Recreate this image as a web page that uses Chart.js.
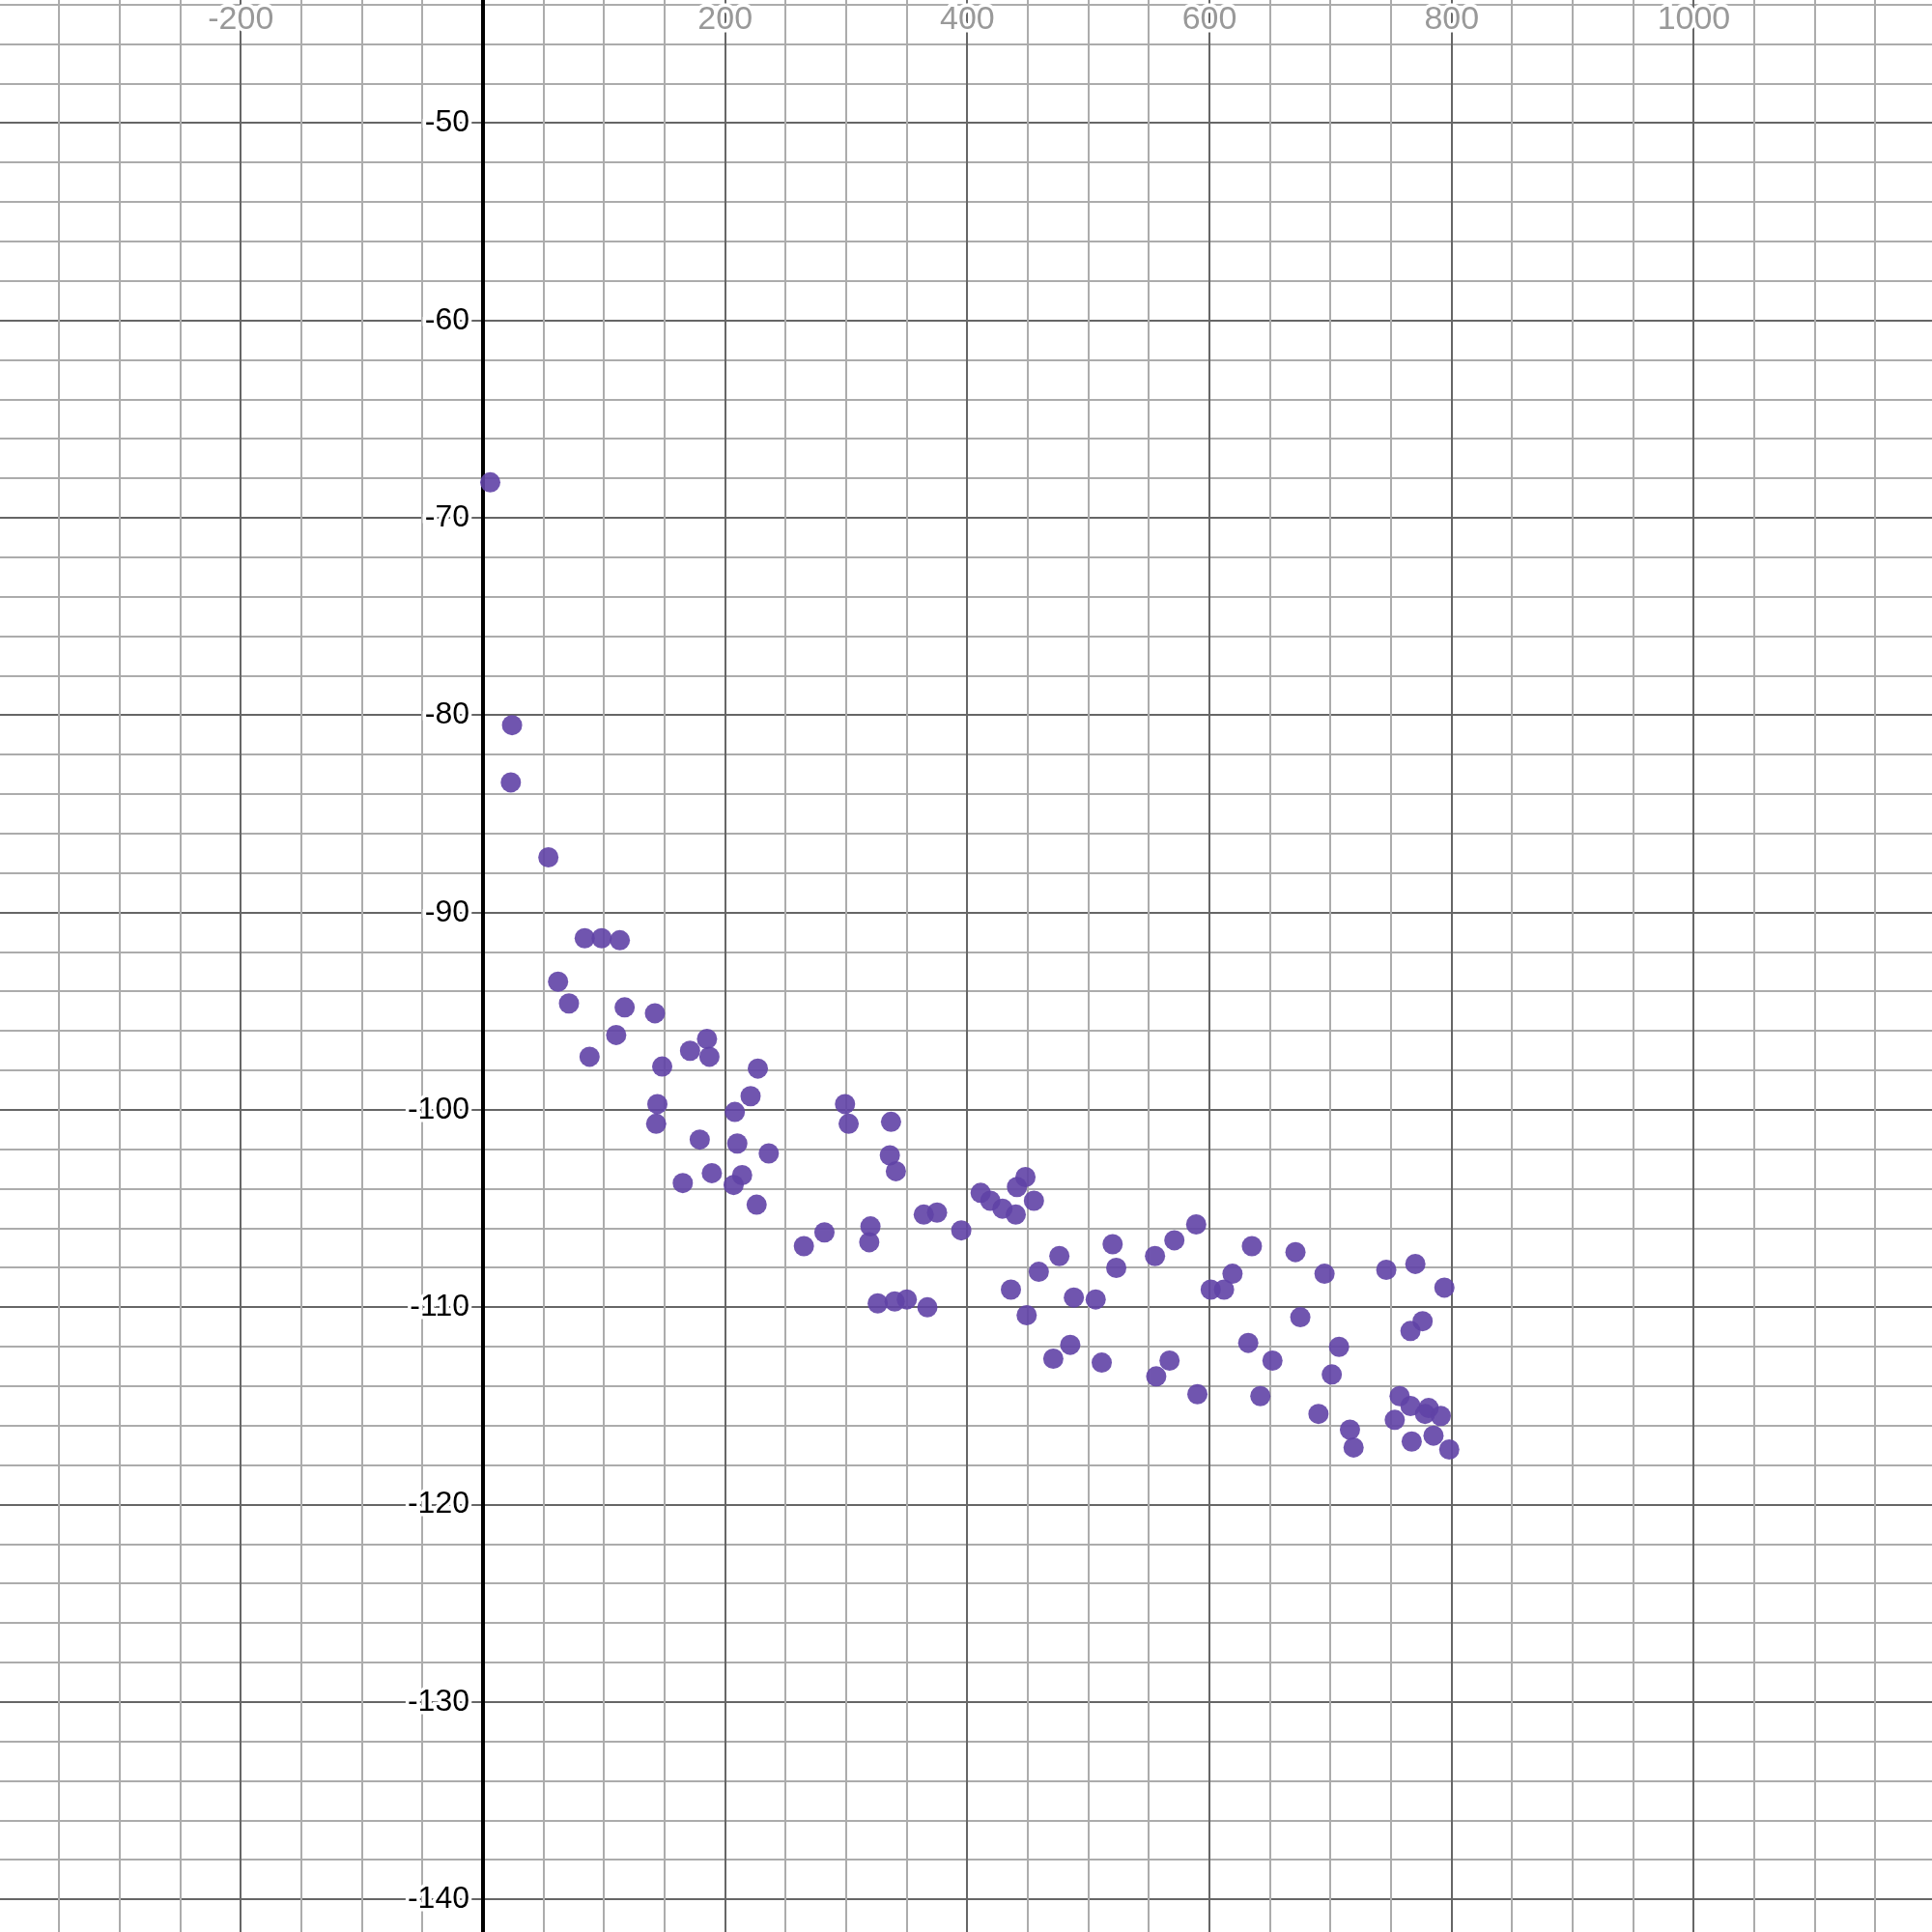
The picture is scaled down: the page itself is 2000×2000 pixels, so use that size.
<!DOCTYPE html>
<html>
<head>
<meta charset="utf-8">
<script src="https://cdn.jsdelivr.net/npm/chart.js@4.4.1/dist/chart.umd.min.js"></script>
<style>
  html, body { margin: 0; padding: 0; background: #fff; }
  canvas { display: block; }
</style>
</head>
<body>
<canvas id="plot" width="2000" height="2000"></canvas>
<script>
// view window (graph units)
const xRange = [-398.9, 1196.7];
const yRange = [-141.65, -43.76];

// data points
const xs = [
    6, 24, 23, 54, 84, 98, 113, 62, 71, 117,
    142, 110, 88, 185, 171, 187, 148, 227, 144, 143,
    221, 208, 179, 210, 236, 189, 165, 214, 207, 226,
    299, 302, 265, 282, 320, 319, 326, 340, 350, 367,
    337, 336, 341, 364, 375, 395, 411, 419, 429, 441,
    448, 455, 440, 436, 449, 459, 476, 488, 506, 471,
    485, 511, 520, 523, 555, 571, 589, 556, 567, 590,
    601, 612, 619, 635, 632, 652, 642, 671, 675, 695,
    690, 701, 707, 716, 719, 746, 770, 794, 766, 776,
    757, 753, 766, 781, 778, 791, 767, 785, 798
];
const ys = [
    -68.2, -80.5, -83.4, -87.2, -91.3, -91.3, -91.4, -93.5, -94.6, -94.8,
    -95.1, -96.2, -97.3, -96.4, -97.0, -97.3, -97.8, -97.9, -99.7, -100.7,
    -99.3, -100.1, -101.5, -101.7, -102.2, -103.2, -103.7, -103.3, -103.8, -104.8,
    -99.7, -100.7, -106.9, -106.2, -105.9, -106.7, -109.8, -109.7, -109.6, -110.0,
    -100.6, -102.3, -103.1, -105.3, -105.2, -106.1, -104.2, -104.6, -105.0, -103.9,
    -103.4, -104.6, -105.3, -109.1, -110.4, -108.2, -107.4, -109.5, -109.6, -112.6,
    -111.9, -112.8, -106.8, -108.0, -107.4, -106.6, -105.8, -113.5, -112.7, -114.4,
    -109.1, -109.1, -108.3, -106.9, -111.8, -112.7, -114.5, -107.2, -110.5, -108.3,
    -115.4, -113.4, -112.0, -116.2, -117.1, -108.1, -107.8, -109.0, -111.2, -110.7,
    -114.5, -115.7, -115.0, -115.1, -115.4, -115.5, -116.8, -116.5, -117.2
];

// grid steps and label steps
const xMinorStep = 50;
const xLabelStep = 200;
const yMinorStep = 2;
const yLabelStep = 10;

const W = 2000;
const FONT = "Liberation Sans, Arial, sans-serif";
const Y_FONT_SIZE = 32;

// pixel of x = 0, the y labels sit just left of it, right aligned
const axisPx = (0 - xRange[0]) / (xRange[1] - xRange[0]) * W;
const meas = document.createElement("canvas").getContext("2d");
meas.font = Y_FONT_SIZE + "px " + FONT;
const widestY = meas.measureText("-100").width;

const points = xs.map((x, i) => ({ x: x, y: ys[i] }));

function isMult(v, step) {
    return Math.abs(v / step - Math.round(v / step)) < 1e-6;
}

new Chart(document.getElementById("plot"), {
    type: "scatter",
    data: {
        datasets: [{
            data: points,
            pointRadius: 10.5,
            pointHoverRadius: 10.5,
            borderWidth: 0,
            backgroundColor: "rgba(96,66,166,0.9)"
        }]
    },
    options: {
        responsive: false,
        animation: false,
        layout: { padding: 0, autoPadding: false },
        plugins: { legend: { display: false }, tooltip: { enabled: false } },
        scales: {
            x: {
                type: "linear",
                position: "top",
                min: xRange[0],
                max: xRange[1],
                border: { display: false },
                grid: {
                    z: -1,
                    drawTicks: false,
                    color: c => c.tick.value === 0 ? "#000" : (isMult(c.tick.value, xLabelStep) ? "#666" : "#acacac"),
                    lineWidth: c => c.tick.value === 0 ? 4 : 2
                },
                ticks: {
                    stepSize: xMinorStep,
                    includeBounds: false,
                    autoSkip: false,
                    maxTicksLimit: 1000,
                    minRotation: 0,
                    maxRotation: 0,
                    mirror: true,
                    padding: 0,
                    color: "#999",
                    textStrokeColor: "#fff",
                    textStrokeWidth: 7,
                    font: { family: FONT, size: 34 },
                    callback: v => (isMult(v, xLabelStep) && v !== 0) ? String(v) : ""
                },
                afterFit: s => { s.height = 0; s.paddingLeft = 0; s.paddingRight = 0; }
            },
            y: {
                type: "linear",
                position: "left",
                min: yRange[0],
                max: yRange[1],
                border: { display: false },
                grid: {
                    z: -2,
                    drawTicks: false,
                    color: c => isMult(c.tick.value, yLabelStep) ? "#666" : "#acacac",
                    lineWidth: 2
                },
                ticks: {
                    stepSize: yMinorStep,
                    includeBounds: false,
                    autoSkip: false,
                    maxTicksLimit: 1000,
                    mirror: true,
                    crossAlign: "far",
                    padding: axisPx - 14 - widestY,
                    color: "#000",
                    textStrokeColor: "#fff",
                    textStrokeWidth: 7,
                    font: { family: FONT, size: Y_FONT_SIZE },
                    callback: v => isMult(v, yLabelStep) ? String(Math.round(v)) : ""
                },
                afterFit: s => { s.width = 0; s.paddingTop = 0; s.paddingBottom = 0; }
            }
        }
    }
});
</script>
</body>
</html>
